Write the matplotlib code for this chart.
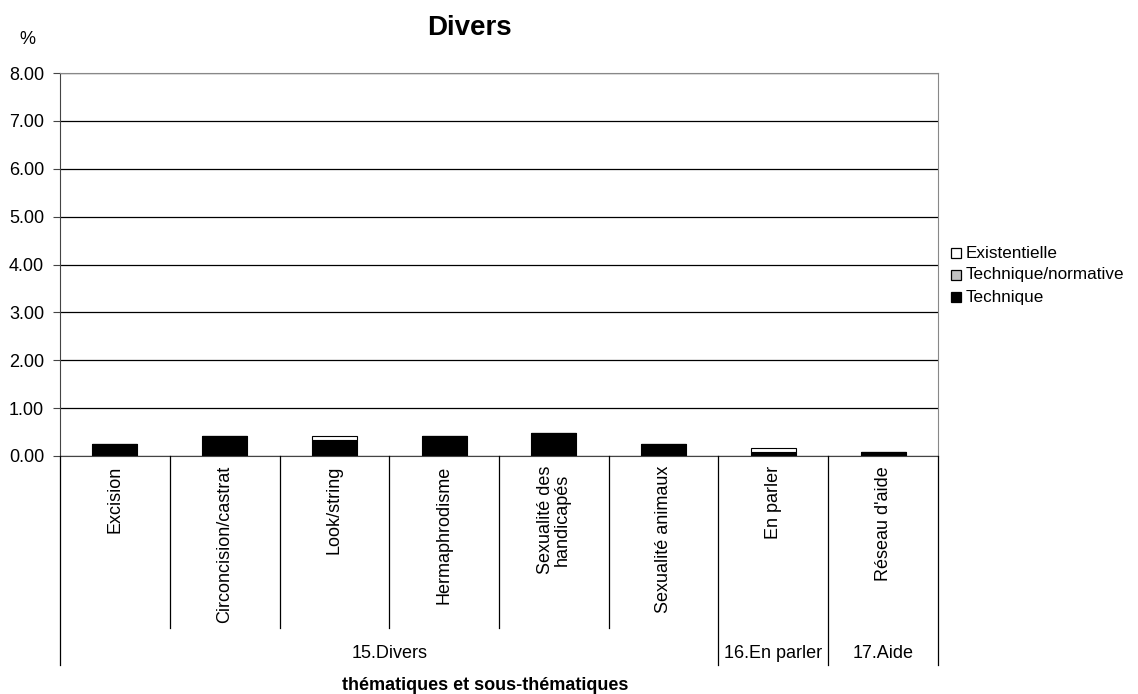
import matplotlib
matplotlib.use("Agg")
import matplotlib.pyplot as plt
from matplotlib.patches import Rectangle
from matplotlib.lines import Line2D

plt.rcParams['font.family'] = ['Liberation Sans', 'DejaVu Sans']

categories = ["Excision", "Circoncision/castrat", "Look/string", "Hermaphrodisme",
              "Sexualité des\nhandicapés", "Sexualité animaux", "En parler", "Réseau d'aide"]
groups = ["15.Divers", "16.En parler", "17.Aide"]
group_sizes = [6, 1, 1]

technique = [0.25, 0.41, 0.33, 0.41, 0.49, 0.25, 0.08, 0.08]
technique_normative = [0.0, 0.0, 0.0, 0.0, 0.0, 0.0, 0.0, 0.0]
existentielle = [0.0, 0.0, 0.08, 0.0, 0.0, 0.0, 0.08, 0.0]

yticks = [0, 1, 2, 3, 4, 5, 6, 7, 8]

W, H = 1138, 694
fig = plt.figure(figsize=(W / 100, H / 100), dpi=100)
x0, x1, y0, y1 = 60, 938, 456, 73
ax = fig.add_axes([x0 / W, 1 - y0 / H, (x1 - x0) / W, (y0 - y1) / H])

n = len(categories)
xs = list(range(n))
bw = 0.41
ax.bar(xs, technique, bw, color="black", edgecolor="black", linewidth=0.8, label="Technique")
ax.bar(xs, technique_normative, bw, bottom=technique, color="#c0c0c0", edgecolor="black",
       linewidth=0.8, label="Technique/normative")
bottom3 = [a + b for a, b in zip(technique, technique_normative)]
ax.bar(xs, existentielle, bw, bottom=bottom3, color="white", edgecolor="black",
       linewidth=0.8, label="Existentielle")

ax.set_xlim(-0.5, n - 0.5)
ax.set_ylim(0, 8)
ax.set_yticks(yticks)
ax.set_yticklabels([f"{v:.2f}" for v in yticks], fontsize=13)
ax.yaxis.grid(True, color="black", linewidth=0.9)
ax.set_axisbelow(True)
ax.tick_params(axis="y", length=5, width=0.8, color="#444444", pad=6.5)
ax.set_xticks([])
for s in ["top", "right"]:
    ax.spines[s].set_color("#888888")
ax.spines["left"].set_color("#444444")
ax.spines["bottom"].set_color("#444444")

# category labels and separators below the axis
to_fig = fig.transFigure.inverted()


def fy(py):
    return 1 - py / H


def data_x_to_fig(xd):
    return to_fig.transform(ax.transData.transform((xd, 0)))[0]


for i, lab in enumerate(categories):
    fx = data_x_to_fig(i)
    fig.text(fx, fy(466), lab, rotation=90, ha="center", va="top", fontsize=13,
             multialignment="center", linespacing=0.95)

group_edges = [0]
for g in group_sizes:
    group_edges.append(group_edges[-1] + g)

outer = set(group_edges)
for b in range(n + 1):
    fx = data_x_to_fig(b - 0.5)
    bottom_px = 665 if b in outer else 628
    fig.add_artist(Line2D([fx, fx], [fy(456), fy(bottom_px)], color="black", linewidth=0.9))

for gi, g in enumerate(groups):
    a, b = group_edges[gi], group_edges[gi + 1]
    fx = (data_x_to_fig(a - 0.5) + data_x_to_fig(b - 0.5)) / 2
    fig.text(fx, fy(654), g, ha="center", va="center", fontsize=13)

fig.text(485 / W, fy(686), "thématiques et sous-thématiques",
         ha="center", va="center", fontsize=13, fontweight="bold")
fig.text(469 / W, fy(35), "Divers", ha="center", va="baseline", fontsize=20, fontweight="bold")
fig.text(27 / W, fy(40), "%", ha="center", va="center", fontsize=13)

# legend
leg_items = [("Existentielle", "white"), ("Technique/normative", "#c0c0c0"), ("Technique", "black")]
for k, (name, col) in enumerate(leg_items):
    cy = 253 + 22 * k
    fig.add_artist(Rectangle((951 / W, fy(cy + 5)), 10 / W, 10 / H, transform=fig.transFigure,
                             facecolor=col, edgecolor="black", linewidth=0.9))
    fig.text(966 / W, fy(cy), name, ha="left", va="center", fontsize=12.3)

fig.savefig("out.png", dpi=100)
